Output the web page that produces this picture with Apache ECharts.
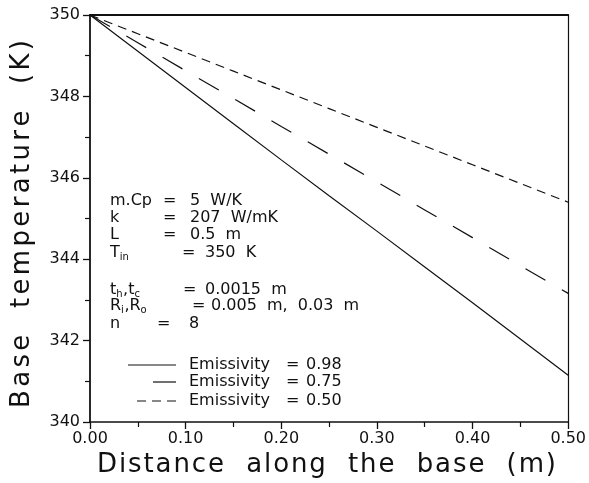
<!DOCTYPE html>
<html>
<head>
<meta charset="utf-8">
<script src="https://cdn.jsdelivr.net/npm/echarts@6/dist/echarts.min.js"></script>
<style>
  html, body { margin: 0; padding: 0; background: #fff; }
  #chart { width: 589px; height: 483px; }
</style>
</head>
<body>
<div id="chart"></div>
<script>
// Distance along the base (m)
const distance = [0, 0.05, 0.10, 0.15, 0.20, 0.25, 0.30, 0.35, 0.40, 0.45, 0.50];
// Base temperature (K) for each emissivity
const tempEps098 = [350.00, 349.11, 348.22, 347.33, 346.44, 345.56, 344.69, 343.81, 342.93, 342.04, 341.15];
const tempEps075 = [350.00, 349.32, 348.63, 347.95, 347.26, 346.58, 345.90, 345.21, 344.53, 343.84, 343.16];
const tempEps050 = [350.00, 349.54, 349.08, 348.62, 348.16, 347.70, 347.24, 346.78, 346.32, 345.86, 345.40];
const emissivityLabels = ['0.98', '0.75', '0.50'];

const FONT = 'DejaVu Sans';
const INK = '#111';

const measureCtx = document.createElement('canvas').getContext('2d');
function textWidth(str, size) {
  measureCtx.font = size + 'px "' + FONT + '"';
  return measureCtx.measureText(str).width;
}

// Lay a string out character by character so it fills a given width
function spacedChars(str, size, width) {
  const chars = Array.from(str);
  const ws = chars.map(c => textWidth(c, size));
  const natural = ws.reduce((a, b) => a + b, 0);
  const gap = (width - natural) / (chars.length - 1);
  let x = 0;
  return chars.map((c, i) => {
    const el = {
      type: 'text', x: x, y: 0,
      style: { text: c, fontSize: size, fontFamily: FONT, fill: INK, align: 'left', verticalAlign: 'middle' }
    };
    x += ws[i] + gap;
    return el;
  });
}

// Text with subscripts: parts = [[text, isSub], ...]
function richLabel(x, y, parts, size) {
  const subSize = Math.round(size * 0.6);
  const children = [];
  let cx = 0;
  parts.forEach(([t, sub]) => {
    const s = sub ? subSize : size;
    children.push({
      type: 'text', x: cx, y: sub ? size * 0.26 : 0,
      style: { text: t, fontSize: s, fontFamily: FONT, fill: INK, align: 'left', verticalAlign: 'middle' }
    });
    cx += textWidth(t, s) + (sub ? 0.5 : 0);
  });
  return { type: 'group', x: x, y: y, children: children };
}

function plainText(x, y, t, size) {
  return {
    type: 'text', x: x, y: y,
    style: { text: t, fontSize: size, fontFamily: FONT, fill: INK, align: 'left', verticalAlign: 'middle' }
  };
}

const ANN = 16;
const graphics = [];

// Parameter block
const params = [
  { y: 201, label: [['m.Cp', false]], eqX: 163, valX: 190, val: '5  W/K' },
  { y: 218, label: [['k', false]], eqX: 163, valX: 190, val: '207  W/mK' },
  { y: 235, label: [['L', false]], eqX: 163, valX: 190, val: '0.5  m' },
  { y: 253, label: [['T', false], ['in', true]], eqX: 182, valX: 205, val: '350  K' },
  { y: 290, label: [['t', false], ['h', true], [',', false], ['t', false], ['c', true]], eqX: 183, valX: 205, val: '0.0015  m' },
  { y: 306, label: [['R', false], ['i', true], [',', false], ['R', false], ['o', true]], eqX: 192, valX: 211, val: '0.005  m,  0.03  m' },
  { y: 324, label: [['n', false]], eqX: 157, valX: 189, val: '8' }
];
params.forEach(p => {
  graphics.push(richLabel(110, p.y, p.label, ANN));
  graphics.push(plainText(p.eqX, p.y, '=', ANN));
  graphics.push(plainText(p.valX, p.y, p.val, ANN));
});

// Legend
const legendRows = [
  { y: 365, x1: 128, dash: null },
  { y: 382, x1: 153, dash: null },
  { y: 401, x1: 137, dash: [9, 6] }
];
legendRows.forEach((r, i) => {
  graphics.push({
    type: 'line',
    shape: { x1: r.x1, y1: r.y, x2: 176, y2: r.y },
    style: { stroke: INK, lineWidth: 1.2, lineDash: r.dash }
  });
  graphics.push(plainText(189, r.y, 'Emissivity', ANN));
  graphics.push(plainText(286, r.y, '=', ANN));
  graphics.push(plainText(306, r.y, emissivityLabels[i], ANN));
});

// Axis titles
graphics.push({ type: 'group', x: 97, y: 465, children: spacedChars('Distance  along  the  base  (m)', 26, 459) });
graphics.push({ type: 'group', x: 22, y: 408, rotation: Math.PI / 2, children: spacedChars('Base  temperature  (K)', 26, 368) });

const chart = echarts.init(document.getElementById('chart'), null, { renderer: 'canvas' });

const axisLabelStyle = { fontFamily: FONT, fontSize: 16, color: INK };

chart.setOption({
  animation: false,
  backgroundColor: '#fff',
  grid: { left: 90, right: 17, top: 15, bottom: 61 },
  xAxis: [
    {
      type: 'value', min: 0, max: 0.5, interval: 0.1,
      axisLine: { onZero: false, lineStyle: { color: INK, width: 1.6 } },
      axisTick: { show: true, inside: false, length: 7, lineStyle: { color: INK, width: 1.3 } },
      minorTick: { show: true, splitNumber: 2, length: 5, lineStyle: { color: INK, width: 1.2 } },
      axisLabel: { ...axisLabelStyle, margin: 9, formatter: v => v.toFixed(2) },
      splitLine: { show: false }
    },
    {
      type: 'value', position: 'top', min: 0, max: 0.5,
      axisLine: { onZero: false, lineStyle: { color: INK, width: 2 } },
      axisTick: { show: false }, axisLabel: { show: false }, splitLine: { show: false }
    }
  ],
  yAxis: [
    {
      type: 'value', min: 340, max: 350, interval: 2,
      axisLine: { show: true, onZero: false, lineStyle: { color: INK, width: 1.8 } },
      axisTick: { show: true, inside: false, length: 7, lineStyle: { color: INK, width: 1.3 } },
      minorTick: { show: true, splitNumber: 2, length: 5, lineStyle: { color: INK, width: 1.2 } },
      axisLabel: { ...axisLabelStyle, margin: 10 },
      splitLine: { show: false }
    },
    {
      type: 'value', position: 'right', min: 340, max: 350,
      axisLine: { show: true, onZero: false, lineStyle: { color: INK, width: 1.2 } },
      axisTick: { show: false }, axisLabel: { show: false }, splitLine: { show: false }
    }
  ],
  series: [
    {
      name: 'Emissivity = 0.98', type: 'line', showSymbol: false, symbol: 'none',
      data: distance.map((d, i) => [d, tempEps098[i]]),
      lineStyle: { color: INK, width: 1.2, type: 'solid' }
    },
    {
      name: 'Emissivity = 0.75', type: 'line', showSymbol: false, symbol: 'none',
      data: distance.map((d, i) => [d, tempEps075[i]]),
      lineStyle: { color: INK, width: 1.2, type: [23, 19] }
    },
    {
      name: 'Emissivity = 0.50', type: 'line', showSymbol: false, symbol: 'none',
      data: distance.map((d, i) => [d, tempEps050[i]]),
      lineStyle: { color: INK, width: 1.2, type: [9, 6] }
    }
  ],
  graphic: graphics
});
</script>
</body>
</html>
